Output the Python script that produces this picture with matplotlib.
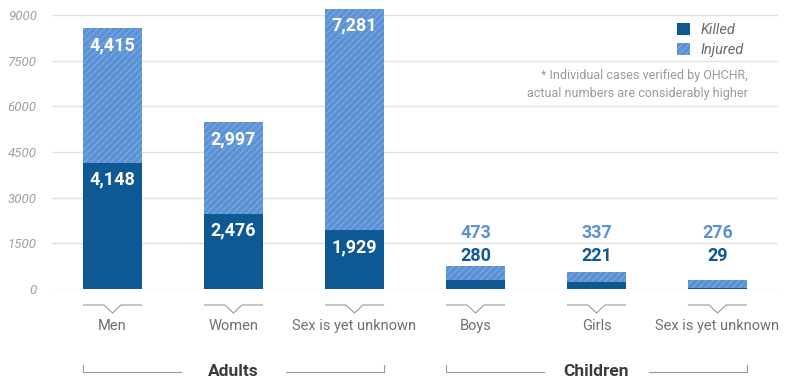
import matplotlib
matplotlib.use("Agg")
import matplotlib.pyplot as plt
from matplotlib.patches import Patch

categories = ["Men", "Women", "Sex is yet unknown", "Boys", "Girls", "Sex is yet unknown"]
killed = [4148, 2476, 1929, 280, 221, 29]
injured = [4415, 2997, 7281, 473, 337, 276]
groups = ["Adults", "Children"]
group_members = [[0, 1, 2], [3, 4, 5]]
yticks = [0, 1500, 3000, 4500, 6000, 7500, 9000]

KILLED_C = "#0e5993"
INJ_C = "#5b92d5"
HATCH_C = "#88b0e2"

plt.rcParams["font.family"] = ["Roboto", "DejaVu Sans"]
plt.rcParams["hatch.linewidth"] = 0.6

W, H = 789, 381
fig = plt.figure(figsize=(W / 100, H / 100), dpi=100)
# axes: x from px 52 to 778, y: 0 at px 289, 9000 at px 15
scale = 274 / 9000.0
ytop = 9300
top_px = 289 - ytop * scale
ax = fig.add_axes([52 / W, 1 - 289 / H, (778 - 52) / W, (289 - top_px) / H])
ax.set_xlim(-0.5, 5.5)
ax.set_ylim(0, ytop)

def py2d(py):
    return (289 - py) / scale

x = list(range(len(categories)))
bw = 0.48
ax.bar(x, killed, bw, color=KILLED_C, linewidth=0, zorder=3)
ax.bar(x, injured, bw, bottom=killed, color=INJ_C, edgecolor=HATCH_C,
       hatch="/////", linewidth=0, zorder=3)

for s in ax.spines.values():
    s.set_visible(False)
ax.set_yticks(yticks)
ax.set_yticklabels([str(t) for t in yticks], fontstyle="italic", color="#a0a0a0", fontsize=9.5)
ax.tick_params(axis="y", length=0, pad=11)
ax.yaxis.grid(True, color="#e2e2e2", linewidth=1, zorder=0)
ax.set_axisbelow(True)
ax.set_xticks([])

lab_off = 17 / scale
for i in range(len(categories)):
    k, inj = killed[i], injured[i]
    if i < 3:
        ax.text(i, k + inj - lab_off, f"{inj:,}", ha="center", va="center",
                color="white", fontsize=13, fontweight="bold", zorder=4)
        ax.text(i, k - lab_off, f"{k:,}", ha="center", va="center",
                color="white", fontsize=13, fontweight="bold", zorder=4)
    else:
        ax.text(i, py2d(233), f"{inj:,}", ha="center", va="center",
                color=INJ_C, fontsize=13, fontweight="bold", zorder=4)
        ax.text(i, py2d(256), f"{k:,}", ha="center", va="center",
                color=KILLED_C, fontsize=13, fontweight="bold", zorder=4)

# caret decorations and category labels
vx = 8.5 / 121.2
for i, c in enumerate(categories):
    ax.plot([i - bw / 2, i - vx, i, i + vx, i + bw / 2],
            [py2d(305), py2d(305), py2d(313), py2d(305), py2d(305)],
            color="#9a9a9a", linewidth=0.8, clip_on=False)
    ax.text(i, py2d(326), c, ha="center", va="center", color="#707070", fontsize=10.5)

# group brackets
for g, mem in zip(groups, group_members):
    x0, x1 = mem[0] - bw / 2, mem[-1] + bw / 2
    xm = (mem[0] + mem[-1]) / 2
    gap = 0.43
    ax.plot([x0, x0, xm - gap], [py2d(365), py2d(372), py2d(372)],
            color="#9a9a9a", linewidth=0.8, clip_on=False)
    ax.plot([xm + gap, x1, x1], [py2d(372), py2d(372), py2d(365)],
            color="#9a9a9a", linewidth=0.8, clip_on=False)
    ax.text(xm, py2d(371), g, ha="center", va="center", color="#3c3c3c",
            fontsize=12.5, fontweight="bold")

handles = [Patch(facecolor=KILLED_C, linewidth=0),
           Patch(facecolor=INJ_C, edgecolor=HATCH_C, hatch="/////", linewidth=0)]
leg = ax.legend(handles, ["Killed", "Injured"], loc="upper right",
                bbox_to_anchor=(751 / W, 1 - 16 / H), bbox_transform=fig.transFigure,
                frameon=False, handlelength=0.85, handleheight=0.85, handletextpad=0.75,
                labelspacing=0.4, borderpad=0, fontsize=10.5)
for t in leg.get_texts():
    t.set_fontstyle("italic")
    t.set_color("#6a6a6a")

fig.text(748 / W, 1 - 75 / H, "* Individual cases verified by OHCHR,", ha="right",
         va="center", color="#9a9a9a", fontsize=9)
fig.text(748 / W, 1 - 93 / H, "actual numbers are considerably higher", ha="right",
         va="center", color="#9a9a9a", fontsize=9)

fig.savefig("out.png", dpi=100)
